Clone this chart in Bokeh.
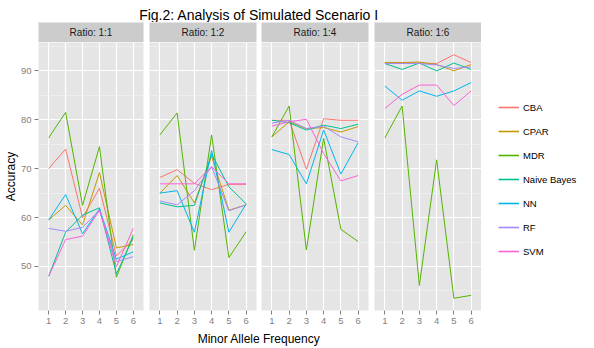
from bokeh.plotting import figure
from bokeh.layouts import row, column
from bokeh.models import Range1d, FixedTicker, Label, Legend, LegendItem
from bokeh.embed import file_html
from bokeh.resources import INLINE

# ---------------- data ----------------
maf = [1, 2, 3, 4, 5, 6]
ratios = ["Ratio: 1:1", "Ratio: 1:2", "Ratio: 1:4", "Ratio: 1:6"]
methods = ["CBA", "CPAR", "MDR", "Naive Bayes", "NN", "RF", "SVM"]
y_ticks = [50, 60, 70, 80, 90]
y_minor = [45, 55, 65, 75, 85, 95]

# accuracy per method, one row per ratio (1:1, 1:2, 1:4, 1:6), columns = MAF 1..6
cba = [[70.0, 74.0, 60.0, 66.0, 52.2, 55.5],
       [68.2, 69.8, 67.0, 65.7, 66.8, 66.8],
       [79.9, 79.9, 69.9, 80.2, 79.9, 79.9],
       [91.6, 91.6, 91.6, 91.5, 93.3, 91.7]]
cpar = [[59.5, 62.5, 58.5, 69.2, 53.8, 54.5],
        [65.0, 68.6, 63.0, 72.5, 61.5, 62.6],
        [76.5, 79.6, 78.2, 78.4, 77.5, 78.6],
        [91.7, 91.7, 91.8, 91.3, 90.0, 91.3]]
mdr = [[76.3, 81.5, 62.5, 74.5, 47.8, 56.5],
       [76.9, 81.4, 53.3, 76.9, 51.8, 57.1],
       [76.5, 82.8, 53.4, 76.2, 57.6, 55.1],
       [76.3, 82.8, 46.1, 71.8, 43.5, 44.1]]
naive_bayes = [[48.0, 57.0, 60.5, 62.0, 48.5, 56.0],
               [63.0, 62.2, 62.5, 73.0, 66.3, 62.8],
               [79.9, 79.4, 77.9, 78.9, 78.2, 79.1],
               [91.5, 90.3, 91.6, 90.0, 91.6, 90.3]]
nn = [[59.5, 64.7, 56.7, 61.8, 51.5, 53.0],
      [65.0, 65.5, 57.0, 73.7, 57.0, 62.8],
      [73.9, 72.9, 66.9, 77.9, 68.9, 75.3],
      [86.9, 84.0, 85.9, 84.8, 85.9, 87.6]]
rf = [[57.8, 57.2, 58.0, 61.5, 51.0, 52.0],
      [63.4, 62.6, 65.5, 70.4, 61.4, 62.6],
      [79.3, 79.9, 78.2, 78.7, 76.5, 75.5],
      [91.5, 91.5, 91.5, 91.2, 90.5, 90.8]]
svm = [[48.0, 55.5, 56.2, 61.5, 50.0, 57.8],
       [66.9, 66.9, 66.9, 70.4, 66.9, 66.9],
       [78.7, 79.6, 80.1, 73.1, 67.5, 68.6],
       [82.3, 85.2, 87.1, 87.1, 82.9, 85.9]]

series = [cba, cpar, mdr, naive_bayes, nn, rf, svm]
colors = ["#F8766D", "#C49A00", "#53B400", "#00C094", "#00B6EB", "#A58AFF", "#FB61D7"]

# ---------------- layout constants ----------------
FONT = "Liberation Sans"
PANEL_W = 107
PANEL_H = 268
STRIP_H = 20
LEFT = 36
BOTTOM = 19
TITLE_H = 22
XLAB_H = 19
LEG_W = 97
gaps = [6, 5, 6, 0]
TOTAL_W = LEFT + 4 * PANEL_W + sum(gaps) + LEG_W

PANEL_BG = "#E5E5E5"
STRIP_BG = "#CCCCCC"
TICK_COL = "#7F7F7F"


def text_fig(w, h, left, right, txt, size, color="black", bg=None, ty=0.5):
    f = figure(width=w, height=h, output_backend="svg", toolbar_location=None,
               x_axis_location=None, y_axis_location=None,
               x_range=Range1d(0, 1), y_range=Range1d(0, 1),
               min_border_left=left, min_border_right=right,
               min_border_top=0, min_border_bottom=0)
    f.grid.visible = False
    f.outline_line_color = None
    f.background_fill_color = bg if bg else "white"
    f.border_fill_color = "white"
    f.add_layout(Label(x=0.5, y=ty, text=txt, text_align="center",
                       text_baseline="middle", text_font=FONT,
                       text_font_size=size, text_color=color))
    return f


cols = []
for i, rname in enumerate(ratios):
    left = LEFT if i == 0 else 0
    w = left + PANEL_W + gaps[i]
    strip = text_fig(w, STRIP_H, left, gaps[i], rname, "10px", "#1A1A1A", STRIP_BG)

    p = figure(width=w, height=PANEL_H + BOTTOM, output_backend="svg",
               toolbar_location=None,
               x_range=Range1d(0.4, 6.6), y_range=Range1d(41.0, 95.8),
               y_axis_location="left" if i == 0 else None,
               min_border_left=left, min_border_right=gaps[i],
               min_border_top=0, min_border_bottom=BOTTOM)
    p.background_fill_color = PANEL_BG
    p.border_fill_color = "white"
    p.outline_line_color = None

    p.xaxis.ticker = FixedTicker(ticks=maf)
    p.xaxis.axis_line_color = None
    p.xaxis.major_tick_line_color = TICK_COL
    p.xaxis.major_tick_out = 4
    p.xaxis.major_tick_in = 0
    p.xaxis.minor_tick_line_color = None
    p.xaxis.major_label_standoff = 3
    p.xaxis.major_label_text_font = FONT
    p.xaxis.major_label_text_font_size = "9.5px"
    p.xaxis.major_label_text_color = TICK_COL

    if i == 0:
        p.yaxis.ticker = FixedTicker(ticks=y_ticks, minor_ticks=y_minor)
        p.yaxis.axis_line_color = None
        p.yaxis.major_tick_line_color = TICK_COL
        p.yaxis.major_tick_out = 4
        p.yaxis.major_tick_in = 0
        p.yaxis.minor_tick_line_color = None
        p.yaxis.major_label_standoff = 3
        p.yaxis.major_label_text_font = FONT
        p.yaxis.major_label_text_font_size = "9.5px"
        p.yaxis.major_label_text_color = TICK_COL
        p.yaxis.axis_label = "Accuracy"
        p.yaxis.axis_label_standoff = 0
        p.yaxis.axis_label_text_font = FONT
        p.yaxis.axis_label_text_font_size = "12px"
        p.yaxis.axis_label_text_font_style = "normal"
        p.yaxis.axis_label_text_color = "black"

    p.ygrid.ticker = FixedTicker(ticks=y_ticks, minor_ticks=y_minor)
    p.xgrid.ticker = FixedTicker(ticks=maf)
    p.ygrid.grid_line_color = "white"
    p.ygrid.grid_line_width = 1.2
    p.ygrid.minor_grid_line_color = "#F2F2F2"
    p.ygrid.minor_grid_line_width = 0.7
    p.xgrid.grid_line_color = "white"
    p.xgrid.grid_line_width = 1.2

    for m, s in enumerate(series):
        p.line(maf, s[i], line_color=colors[m], line_width=1)

    cols.append(column(strip, p, spacing=0))

# legend panel: copies of the 1:6 series lie outside this panel's ranges
# (so only their legend keys are seen)
lf = figure(width=LEG_W, height=STRIP_H + PANEL_H + BOTTOM, output_backend="svg",
            toolbar_location=None, x_axis_location=None, y_axis_location=None,
            x_range=Range1d(0, 0.5), y_range=Range1d(0, 1),
            min_border_left=0, min_border_right=0, min_border_top=0, min_border_bottom=0)
lf.grid.visible = False
lf.outline_line_color = None
lf.background_fill_color = "white"
lf.border_fill_color = "white"
items = []
for m, name in enumerate(methods):
    r = lf.line(maf, series[m][3], line_color=colors[m], line_width=1.6)
    items.append(LegendItem(label=name, renderers=[r]))
legend = Legend(items=items, location=(17, 66), padding=0, margin=0,
                spacing=0, glyph_width=21, glyph_height=24, label_height=20,
                label_standoff=4, label_text_font=FONT, label_text_font_size="9.5px",
                label_text_color="black", border_line_color=None,
                background_fill_alpha=0)
lf.add_layout(legend)

title = text_fig(TOTAL_W, TITLE_H, LEFT, LEG_W, "Fig.2: Analysis of Simulated Scenario I",
                 "14px", ty=0.36)
xlab = text_fig(TOTAL_W, XLAB_H, LEFT, LEG_W, "Minor Allele Frequency", "12px")

layout = column(title, row(*cols, lf, spacing=0), xlab, spacing=0)

open("out.html", "w").write(file_html(layout, INLINE))
